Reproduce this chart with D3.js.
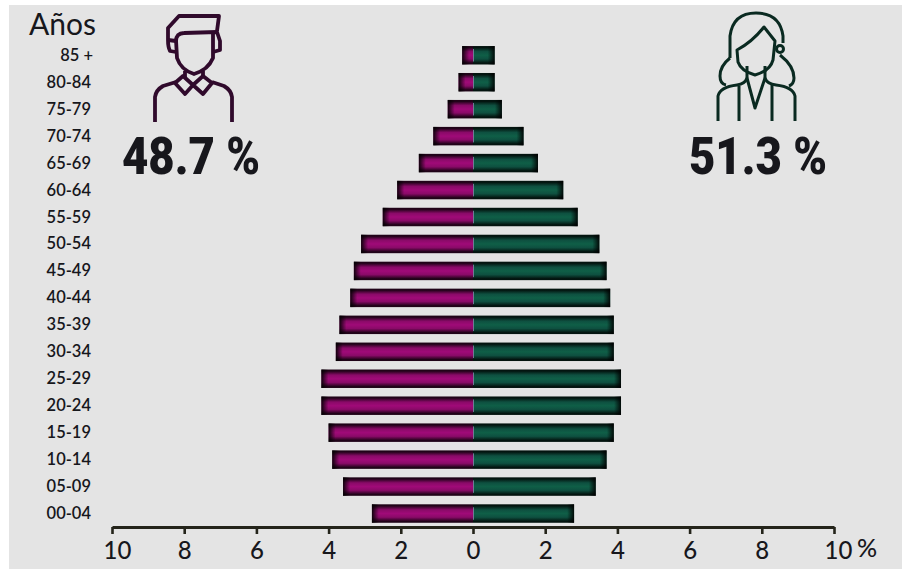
<!DOCTYPE html>
<html lang="es">
<head>
<meta charset="utf-8">
<title>Pirámide de población</title>
<script src="https://cdn.jsdelivr.net/npm/d3@7/dist/d3.min.js"></script>
<style>
  html, body { margin: 0; padding: 0; background: #fff; }
  svg { display: block; }
  text { fill: #17171c; }
</style>
</head>
<body>
<svg id="pyramid" width="902" height="569"></svg>
<script>
// Population shares (%) by five-year age group, oldest first
const ageGroups = ["85 +", "80-84", "75-79", "70-74", "65-69", "60-64", "55-59", "50-54", "45-49",
                   "40-44", "35-39", "30-34", "25-29", "20-24", "15-19", "10-14", "05-09", "00-04"];
const maleShare = [0.3, 0.4, 0.7, 1.1, 1.5, 2.1, 2.5, 3.1, 3.3, 3.4, 3.7, 3.8, 4.2, 4.2, 4.0, 3.9, 3.6, 2.8];
const femaleShare = [0.6, 0.6, 0.8, 1.4, 1.8, 2.5, 2.9, 3.5, 3.7, 3.8, 3.9, 3.9, 4.1, 4.1, 3.9, 3.7, 3.4, 2.8];
const axisTicks = [-10, -8, -6, -4, -2, 0, 2, 4, 6, 8, 10];
const maleTotal = "48.7 %";
const femaleTotal = "51.3 %";
const yearsTitle = "Años";
const percentSign = "%";

const svg = d3.select("#pyramid");

svg.append("rect").attr("x", 9).attr("y", 5).attr("width", 893).attr("height", 564).attr("fill", "#e4e4e4");

const defs = svg.append("defs");

// Bars are dark along their long edges and bright along the middle
function barGradient(id, edge, mid, core) {
  const g = defs.append("linearGradient").attr("id", id).attr("x1", 0).attr("x2", 0).attr("y1", 0).attr("y2", 1);
  [[0, edge], [0.08, edge], [0.3, mid], [0.5, core], [0.7, mid], [0.92, edge], [1, edge]]
    .forEach(([o, c]) => g.append("stop").attr("offset", o).attr("stop-color", c));
}
barGradient("maleFill", "#200318", "#8a0a68", "#a00a78");
barGradient("femaleFill", "#03140f", "#0e5040", "#0f5f47");

// Outer ends of the bars fade to black
function endGradient(id, x1, x2) {
  const g = defs.append("linearGradient").attr("id", id).attr("x1", x1).attr("x2", x2).attr("y1", 0).attr("y2", 0);
  g.append("stop").attr("offset", 0).attr("stop-color", "#000").attr("stop-opacity", 0.9);
  g.append("stop").attr("offset", 1).attr("stop-color", "#000").attr("stop-opacity", 0);
}
endGradient("fadeLeft", 0, 1);
endGradient("fadeRight", 1, 0);

const x = d3.scaleLinear().domain([-10, 10]).range([112, 834]);
const y = d3.scaleBand().domain(ageGroups).range([41.8, 527]).paddingInner(0.315).paddingOuter(0.157);
const END_FADE = 7;

const rows = svg.append("g").selectAll("g").data(ageGroups).join("g");
rows.append("rect")
  .attr("x", (d, i) => x(-maleShare[i]))
  .attr("y", d => y(d))
  .attr("width", (d, i) => x(0) - x(-maleShare[i]))
  .attr("height", y.bandwidth())
  .attr("fill", "url(#maleFill)");
rows.append("rect")
  .attr("x", x(0))
  .attr("y", d => y(d))
  .attr("width", (d, i) => x(femaleShare[i]) - x(0))
  .attr("height", y.bandwidth())
  .attr("fill", "url(#femaleFill)");
rows.append("rect")
  .attr("x", (d, i) => x(-maleShare[i]))
  .attr("y", d => y(d))
  .attr("width", END_FADE)
  .attr("height", y.bandwidth())
  .attr("fill", "url(#fadeLeft)");
rows.append("rect")
  .attr("x", (d, i) => x(femaleShare[i]) - END_FADE)
  .attr("y", d => y(d))
  .attr("width", END_FADE)
  .attr("height", y.bandwidth())
  .attr("fill", "url(#fadeRight)");
// Thin seam between the two halves of each bar
rows.append("line")
  .attr("x1", x(0) + 0.5).attr("x2", x(0) + 0.5)
  .attr("y1", d => y(d) + 3).attr("y2", d => y(d) + y.bandwidth() - 3)
  .attr("stroke", "#6f7a94").attr("stroke-width", 1);

// Age labels
svg.append("g").selectAll("text").data(ageGroups).join("text")
  .attr("x", d => d === "85 +" ? 93 : 91)
  .attr("y", d => y(d) + y.bandwidth() / 2 + 5.5)
  .attr("text-anchor", "end")
  .attr("font-family", "Lato")
  .attr("font-weight", 600)
  .attr("font-size", 16.5)
  .text(d => d);

svg.append("text").attr("x", 29).attr("y", 35)
  .attr("font-family", "Lato").attr("font-size", 30).text(yearsTitle);

// Bottom axis, folded around zero
const axis = svg.append("g").attr("transform", "translate(0,527)")
  .call(d3.axisBottom(x).tickValues(axisTicks).tickSize(7).tickSizeOuter(0).tickPadding(8).tickFormat(d => Math.abs(d)));
axis.select(".domain").attr("stroke", "#24241a").attr("stroke-width", 3);
axis.selectAll(".tick line").attr("stroke", "#24241a").attr("stroke-width", 2.6);
axis.selectAll(".tick text")
  .attr("font-family", "Lato").attr("font-size", 24).attr("font-weight", 500)
  .attr("dx", d => d === -10 ? 5 : (d === 10 ? 4 : 0));
svg.append("text").attr("x", 857).attr("y", 557)
  .attr("font-family", "Lato").attr("font-size", 25).attr("font-weight", 500).text(percentSign);

// Share totals
const totalsStyle = sel => sel.attr("y", 174).attr("font-family", "Roboto").attr("font-weight", 900)
  .attr("font-size", 52).attr("textLength", 138).attr("lengthAdjust", "spacingAndGlyphs");
svg.append("text").attr("x", 122).call(totalsStyle).text(maleTotal);
svg.append("text").attr("x", 689).call(totalsStyle).text(femaleTotal);

// Man pictogram
const man = svg.append("g").attr("fill", "none").attr("stroke", "#300a2c").attr("stroke-width", 3.8)
  .attr("stroke-linejoin", "round");
[
  "M217 31 L219 16 L179 16 L168 28 L168 40 Q168 47 170 51 L176 52",
  "M168 40 L176 41 Q176 33 184 33 L217 32 L220 41 L220 50 L213 52",
  "M176 40 L177 58 Q181 70 194 74 Q208 70 213 58 L213 33",
  "M185 71 L185 77 M203 71 L203 77",
  "M155 122 L155 97 Q156 90 163 86 L176 82",
  "M232 122 L232 97 Q231 90 224 86 L212 82",
  "M175 83 L183 76 L193 85 L185 94 Z",
  "M193 85 L203 76 L212 83 L203 94 Z"
].forEach(d => man.append("path").attr("d", d));

// Woman pictogram
const woman = svg.append("g").attr("fill", "none").attr("stroke", "#0a2a21").attr("stroke-width", 3)
  .attr("stroke-linejoin", "round");
[
  "M730 58 L730 36 Q733 13 756 13 Q780 13 783 36 L783 43",
  "M737 50 Q752 42 764 27 L775 41 L773 60 Q770 71 755 75 Q741 71 738 62 Z",
  "M730 58 Q720 66 720 76 Q720 84 726 85",
  "M780 55 Q794 66 794 78 Q794 84 789 86",
  "M747 66 L747 78 M765 66 L765 78",
  "M718 121 L718 96 Q720 87 737 85 Q745 84 747 78",
  "M795 121 L795 96 Q793 87 776 85 Q767 84 765 78",
  "M739 121 L739 86 M772 121 L772 85",
  "M747 78 L755 108 L765 78"
].forEach(d => woman.append("path").attr("d", d));
woman.append("circle").attr("cx", 780).attr("cy", 49).attr("r", 3.5);
</script>
</body>
</html>
